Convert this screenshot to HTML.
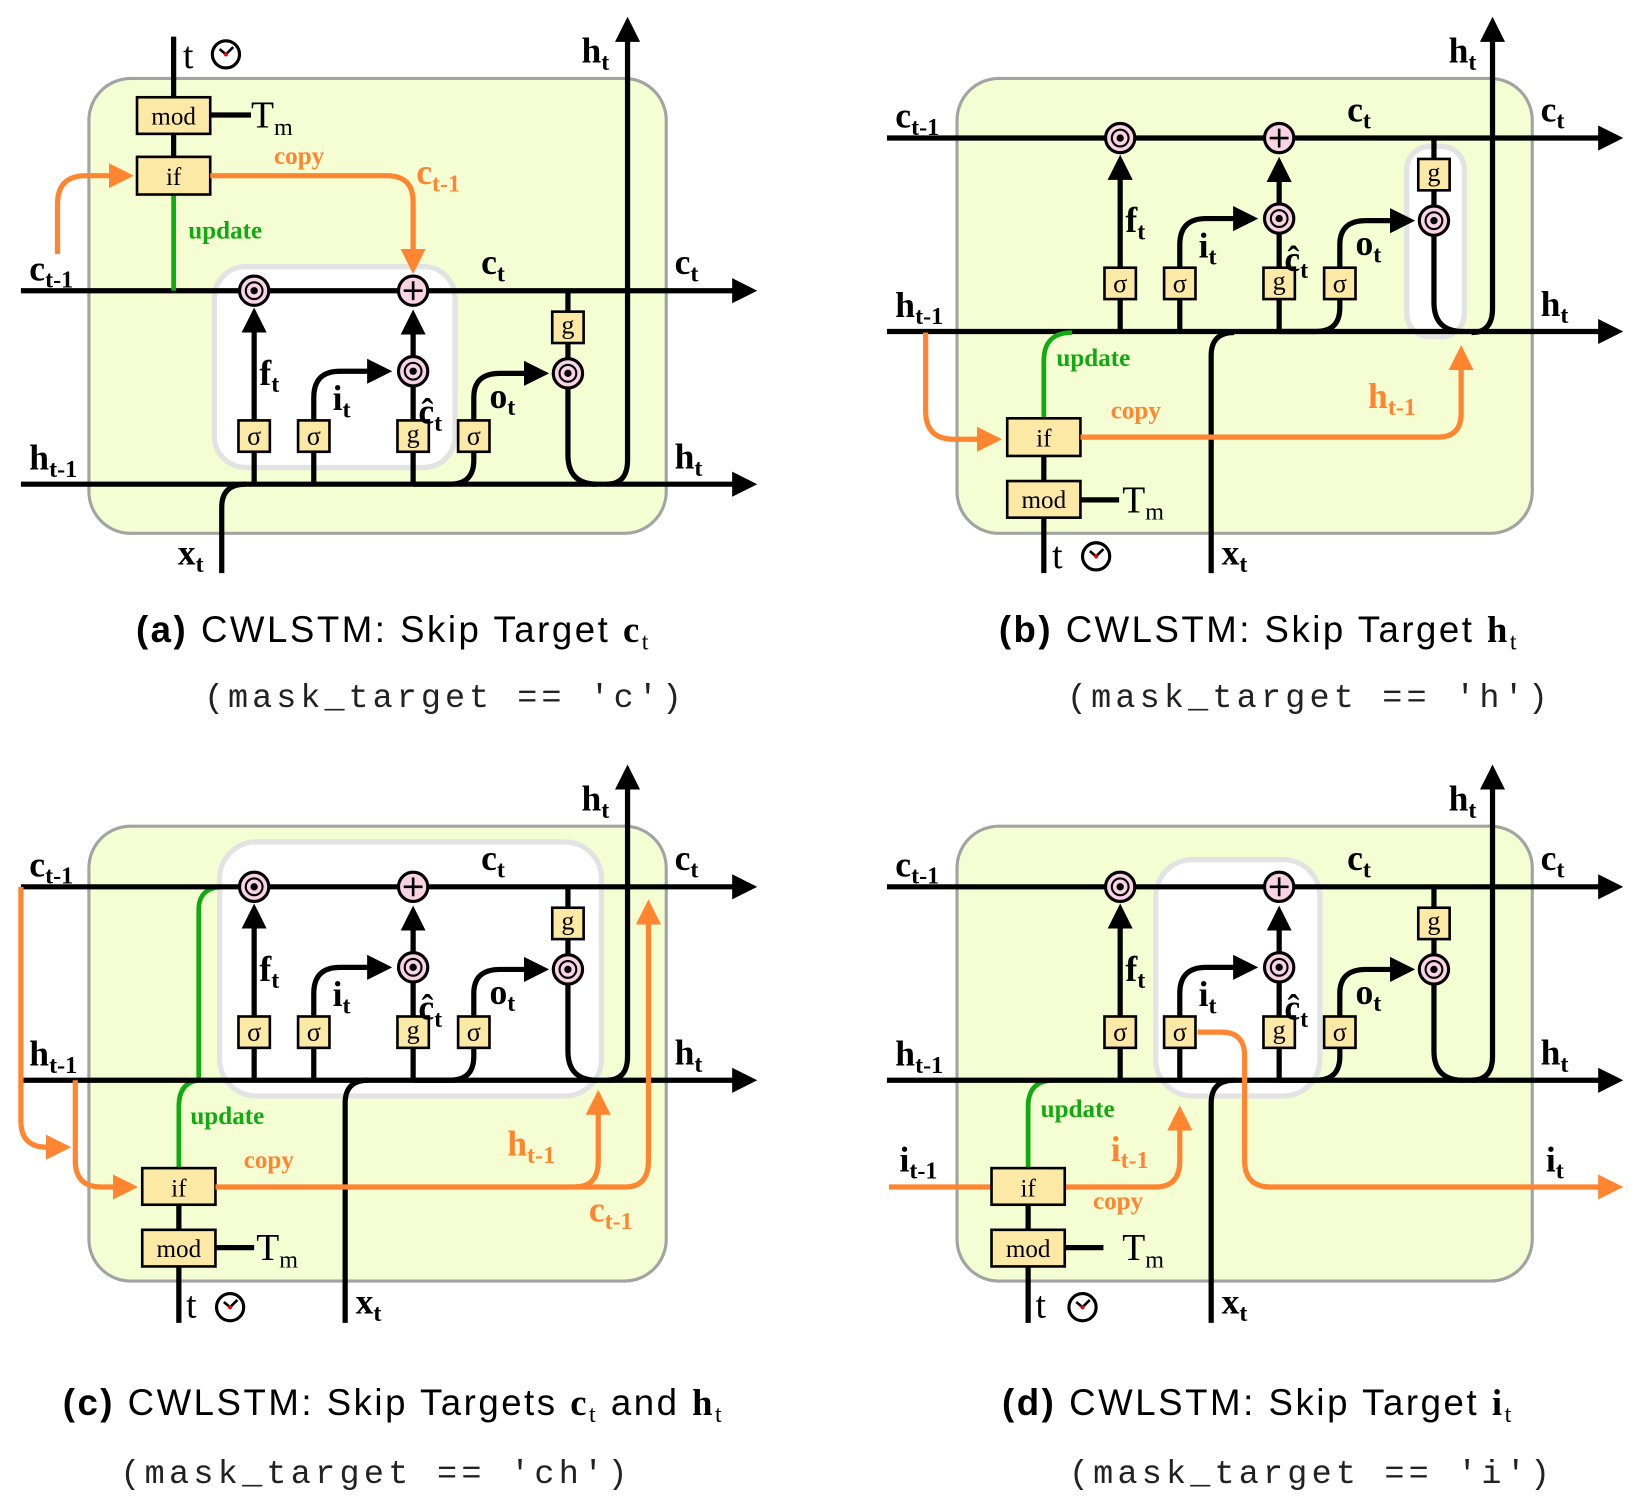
<!DOCTYPE html>
<html><head><meta charset="utf-8"><style>
html,body{margin:0;padding:0;background:#fff;}
svg{display:block;}
.ln{fill:none;stroke:#000;stroke-width:5;}
.or{fill:none;stroke:#ff8530;stroke-width:5;}
.gr{fill:none;stroke:#11aa11;stroke-width:4.5;}
.ob{fill:#f5fdd3;stroke:#a3a3a3;stroke-width:3;}
.ib{fill:#fff;stroke:#e3e3e3;stroke-width:5;}
.cir{fill:#f8d3e2;stroke:#000;stroke-width:3;}
.gate{fill:#fde9a6;stroke:#000;stroke-width:2.5;}
.gt{font-family:"Liberation Serif",serif;font-size:25px;text-anchor:middle;}
.gm{font-family:"Liberation Serif",serif;font-size:24px;text-anchor:middle;}
.lb{font-family:"Liberation Serif",serif;font-weight:bold;font-size:34px;}
.s{font-size:23px;}
.olb{fill:#ff8530;}
.sm{font-family:"Liberation Serif",serif;font-weight:bold;font-size:24px;}
.rs{font-family:"Liberation Serif",serif;font-size:36px;}
.cap{font-family:"Liberation Sans","DejaVu Sans",sans-serif;font-size:35px;}
.mono{font-family:"Liberation Mono",monospace;font-size:32px;fill:#222;}
</style></head><body>
<svg width="1640" height="1508" viewBox="0 0 1568 1442" preserveAspectRatio="none" xmlns="http://www.w3.org/2000/svg">
<defs>
<marker id="ab" markerUnits="userSpaceOnUse" markerWidth="26" markerHeight="26" refX="4" refY="12" orient="auto"><path d="M0,0 L24,12 L0,24 z" fill="#000"/></marker>
<marker id="ao" markerUnits="userSpaceOnUse" markerWidth="26" markerHeight="26" refX="4" refY="12" orient="auto"><path d="M0,0 L24,12 L0,24 z" fill="#ff8530"/></marker>
</defs>

<!-- ===== Panel A ===== -->
<rect class="ob" x="85" y="75" width="552" height="435" rx="40"/>
<rect class="ib" x="205" y="255" width="230" height="192" rx="30"/>
<g>
<path class="ln" d="M20 278 H704" marker-end="url(#ab)"/>
<path class="ln" d="M20 463 H704" marker-end="url(#ab)"/>
<path class="ln" d="M243 463 V314" marker-end="url(#ab)"/>
<path class="ln" d="M300 463 V380 Q300 355 325 355 H355" marker-end="url(#ab)"/>
<path class="ln" d="M395 463 V370 M395 341 V316"/>
<path class="ln" d="M395 320 V316" marker-end="url(#ab)"/>
<path class="ln" d="M395 463 H430 Q453 463 453 440 V380 Q453 357 478 357 H505" marker-end="url(#ab)"/>
<path class="ln" d="M543 278 V343 M543 371 V435 Q543 463 571 463"/>
<circle class="cir" cx="243" cy="278" r="14"/><circle cx="243" cy="278" r="3.5"/><circle cx="243" cy="278" r="8" fill="none" stroke="#000" stroke-width="2"/>
<circle class="cir" cx="395" cy="278" r="14"/><path d="M386 278 H404 M395 269 V287" stroke="#000" stroke-width="2.5"/>
<circle class="cir" cx="395" cy="355" r="14"/><circle cx="395" cy="355" r="3.5"/><circle cx="395" cy="355" r="8" fill="none" stroke="#000" stroke-width="2"/>
<circle class="cir" cx="543" cy="357" r="14"/><circle cx="543" cy="357" r="3.5"/><circle cx="543" cy="357" r="8" fill="none" stroke="#000" stroke-width="2"/>
<rect class="gate" x="228" y="402" width="30" height="30"/><text class="gt" x="243" y="425">σ</text>
<rect class="gate" x="285" y="402" width="30" height="30"/><text class="gt" x="300" y="425">σ</text>
<rect class="gate" x="380" y="402" width="30" height="30"/><text class="gt" x="395" y="423">g</text>
<rect class="gate" x="438" y="402" width="30" height="30"/><text class="gt" x="453" y="425">σ</text>
<rect class="gate" x="528" y="298" width="30" height="30"/><text class="gt" x="543" y="319">g</text>
<text class="lb" x="28" y="268">c<tspan class="s" dy="7">t-1</tspan></text>
<text class="lb" x="28" y="449">h<tspan class="s" dy="7">t-1</tspan></text>
<text class="lb" x="460" y="262">c<tspan class="s" dy="7">t</tspan></text>
<text class="lb" x="645" y="262">c<tspan class="s" dy="7">t</tspan></text>
<text class="lb" x="645" y="448">h<tspan class="s" dy="7">t</tspan></text>
<text class="lb" x="248" y="368">f<tspan class="s" dy="7">t</tspan></text>
<text class="lb" x="318" y="392">i<tspan class="s" dy="7">t</tspan></text>
<text class="lb" x="400" y="405">ĉ<tspan class="s" dy="7">t</tspan></text>
<text class="lb" x="468" y="390">o<tspan class="s" dy="7">t</tspan></text>
</g>
<path class="ln" d="M580 463 Q600 463 600 440 V36" marker-end="url(#ab)"/>
<text class="lb" x="556" y="60">h<tspan class="s" dy="7">t</tspan></text>
<path class="ln" d="M212 548 V485 Q212 463 235 463"/>
<text class="lb" x="170" y="540">x<tspan class="s" dy="7">t</tspan></text>
<path class="ln" d="M166 35 V150"/>
<path class="gr" d="M166 186 V278"/>
<path class="ln" d="M201 110 H240"/>
<rect class="gate" x="131" y="93" width="70" height="35"/><text class="gm" x="166" y="119">mod</text>
<rect class="gate" x="131" y="150" width="70" height="36"/><text class="gm" x="166" y="177">if</text>
<text class="rs" x="240" y="122">T<tspan class="s" dy="7">m</tspan></text>
<text class="rs" x="175" y="65">t</text>
<g transform="translate(216,52)"><circle r="13" fill="#fff" stroke="#000" stroke-width="3"/><path d="M0 0 L-6 -5 M0 0 L7 -7" stroke="#000" stroke-width="2.5"/><circle r="2" fill="#e00"/></g>
<path class="or" d="M55 243 V195 Q55 168 82 168 H108" marker-end="url(#ao)"/>
<path class="or" d="M201 168 H370 Q395 168 395 193 V242" marker-end="url(#ao)"/>
<text class="sm olb" x="262" y="157">copy</text>
<text class="lb olb" x="398" y="176">c<tspan class="s" dy="7">t-1</tspan></text>
<text class="sm" x="180" y="228" fill="#11aa11">update</text>
<text class="cap" x="130" y="614" textLength="490" lengthAdjust="spacing"><tspan font-weight="bold">(a)</tspan> CWLSTM: Skip Target <tspan font-family="Liberation Serif" font-weight="bold">c</tspan><tspan font-family="Liberation Serif" class="s" dy="7">t</tspan></text>
<text class="mono" x="195" y="676" textLength="457" lengthAdjust="spacing">(mask_target == 'c')</text>

<!-- ===== Panel B ===== -->
<rect class="ob" x="915" y="75" width="550" height="435" rx="40"/>
<rect class="ib" x="1345" y="140" width="55" height="182" rx="22"/>
<g transform="translate(828,-146)">
<path class="ln" d="M20 278 H704" marker-end="url(#ab)"/>
<path class="ln" d="M20 463 H704" marker-end="url(#ab)"/>
<path class="ln" d="M243 463 V314" marker-end="url(#ab)"/>
<path class="ln" d="M300 463 V380 Q300 355 325 355 H355" marker-end="url(#ab)"/>
<path class="ln" d="M395 463 V370 M395 341 V316"/>
<path class="ln" d="M395 320 V316" marker-end="url(#ab)"/>
<path class="ln" d="M395 463 H430 Q453 463 453 440 V380 Q453 357 478 357 H505" marker-end="url(#ab)"/>
<path class="ln" d="M543 278 V343 M543 371 V435 Q543 463 571 463"/>
<circle class="cir" cx="243" cy="278" r="14"/><circle cx="243" cy="278" r="3.5"/><circle cx="243" cy="278" r="8" fill="none" stroke="#000" stroke-width="2"/>
<circle class="cir" cx="395" cy="278" r="14"/><path d="M386 278 H404 M395 269 V287" stroke="#000" stroke-width="2.5"/>
<circle class="cir" cx="395" cy="355" r="14"/><circle cx="395" cy="355" r="3.5"/><circle cx="395" cy="355" r="8" fill="none" stroke="#000" stroke-width="2"/>
<circle class="cir" cx="543" cy="357" r="14"/><circle cx="543" cy="357" r="3.5"/><circle cx="543" cy="357" r="8" fill="none" stroke="#000" stroke-width="2"/>
<rect class="gate" x="228" y="402" width="30" height="30"/><text class="gt" x="243" y="425">σ</text>
<rect class="gate" x="285" y="402" width="30" height="30"/><text class="gt" x="300" y="425">σ</text>
<rect class="gate" x="380" y="402" width="30" height="30"/><text class="gt" x="395" y="423">g</text>
<rect class="gate" x="438" y="402" width="30" height="30"/><text class="gt" x="453" y="425">σ</text>
<rect class="gate" x="528" y="298" width="30" height="30"/><text class="gt" x="543" y="319">g</text>
<text class="lb" x="28" y="268">c<tspan class="s" dy="7">t-1</tspan></text>
<text class="lb" x="28" y="449">h<tspan class="s" dy="7">t-1</tspan></text>
<text class="lb" x="460" y="262">c<tspan class="s" dy="7">t</tspan></text>
<text class="lb" x="645" y="262">c<tspan class="s" dy="7">t</tspan></text>
<text class="lb" x="645" y="448">h<tspan class="s" dy="7">t</tspan></text>
<text class="lb" x="248" y="368">f<tspan class="s" dy="7">t</tspan></text>
<text class="lb" x="318" y="392">i<tspan class="s" dy="7">t</tspan></text>
<text class="lb" x="400" y="405">ĉ<tspan class="s" dy="7">t</tspan></text>
<text class="lb" x="468" y="390">o<tspan class="s" dy="7">t</tspan></text>
</g>
<path class="ln" d="M1407 318 Q1427 318 1427 295 V36" marker-end="url(#ab)"/>
<text class="lb" x="1385" y="60">h<tspan class="s" dy="7">t</tspan></text>
<path class="ln" d="M1158 548 V340 Q1158 318 1180 318"/>
<text class="lb" x="1168" y="540">x<tspan class="s" dy="7">t</tspan></text>
<path class="gr" d="M998 400 V345 Q998 318 1025 318"/>
<path class="ln" d="M998 436 V460 M998 495 V548 M1033 478 H1070"/>
<rect class="gate" x="963" y="400" width="70" height="36"/><text class="gm" x="998" y="427">if</text>
<rect class="gate" x="963" y="460" width="70" height="35"/><text class="gm" x="998" y="486">mod</text>
<text class="rs" x="1073" y="490">T<tspan class="s" dy="7">m</tspan></text>
<text class="rs" x="1006" y="543">t</text>
<g transform="translate(1048,532)"><circle r="13" fill="#fff" stroke="#000" stroke-width="3"/><path d="M0 0 L-6 -5 M0 0 L7 -7" stroke="#000" stroke-width="2.5"/><circle r="2" fill="#e00"/></g>
<path class="or" d="M885 318 V393 Q885 420 912 420 H938" marker-end="url(#ao)"/>
<path class="or" d="M1033 418 H1375 Q1397 418 1397 395 V350" marker-end="url(#ao)"/>
<text class="sm" x="1010" y="350" fill="#11aa11">update</text>
<text class="sm olb" x="1062" y="400">copy</text>
<text class="lb olb" x="1308" y="390">h<tspan class="s" dy="7">t-1</tspan></text>
<text class="cap" x="955" y="614" textLength="495" lengthAdjust="spacing"><tspan font-weight="bold">(b)</tspan> CWLSTM: Skip Target <tspan font-family="Liberation Serif" font-weight="bold">h</tspan><tspan font-family="Liberation Serif" class="s" dy="7">t</tspan></text>
<text class="mono" x="1020" y="676" textLength="460" lengthAdjust="spacing">(mask_target == 'h')</text>

<!-- ===== Panel C ===== -->
<rect class="ob" x="85" y="790" width="552" height="435" rx="40"/>
<rect class="ib" x="210" y="805" width="365" height="243" rx="35"/>
<path class="gr" d="M171 1117 V1058 Q171 1035 190 1033 V870 Q190 848 214 848"/>
<g transform="translate(0,570)">
<path class="ln" d="M20 278 H704" marker-end="url(#ab)"/>
<path class="ln" d="M20 463 H704" marker-end="url(#ab)"/>
<path class="ln" d="M243 463 V314" marker-end="url(#ab)"/>
<path class="ln" d="M300 463 V380 Q300 355 325 355 H355" marker-end="url(#ab)"/>
<path class="ln" d="M395 463 V370 M395 341 V316"/>
<path class="ln" d="M395 320 V316" marker-end="url(#ab)"/>
<path class="ln" d="M395 463 H430 Q453 463 453 440 V380 Q453 357 478 357 H505" marker-end="url(#ab)"/>
<path class="ln" d="M543 278 V343 M543 371 V435 Q543 463 571 463"/>
<circle class="cir" cx="243" cy="278" r="14"/><circle cx="243" cy="278" r="3.5"/><circle cx="243" cy="278" r="8" fill="none" stroke="#000" stroke-width="2"/>
<circle class="cir" cx="395" cy="278" r="14"/><path d="M386 278 H404 M395 269 V287" stroke="#000" stroke-width="2.5"/>
<circle class="cir" cx="395" cy="355" r="14"/><circle cx="395" cy="355" r="3.5"/><circle cx="395" cy="355" r="8" fill="none" stroke="#000" stroke-width="2"/>
<circle class="cir" cx="543" cy="357" r="14"/><circle cx="543" cy="357" r="3.5"/><circle cx="543" cy="357" r="8" fill="none" stroke="#000" stroke-width="2"/>
<rect class="gate" x="228" y="402" width="30" height="30"/><text class="gt" x="243" y="425">σ</text>
<rect class="gate" x="285" y="402" width="30" height="30"/><text class="gt" x="300" y="425">σ</text>
<rect class="gate" x="380" y="402" width="30" height="30"/><text class="gt" x="395" y="423">g</text>
<rect class="gate" x="438" y="402" width="30" height="30"/><text class="gt" x="453" y="425">σ</text>
<rect class="gate" x="528" y="298" width="30" height="30"/><text class="gt" x="543" y="319">g</text>
<text class="lb" x="28" y="268">c<tspan class="s" dy="7">t-1</tspan></text>
<text class="lb" x="28" y="449">h<tspan class="s" dy="7">t-1</tspan></text>
<text class="lb" x="460" y="262">c<tspan class="s" dy="7">t</tspan></text>
<text class="lb" x="645" y="262">c<tspan class="s" dy="7">t</tspan></text>
<text class="lb" x="645" y="448">h<tspan class="s" dy="7">t</tspan></text>
<text class="lb" x="248" y="368">f<tspan class="s" dy="7">t</tspan></text>
<text class="lb" x="318" y="392">i<tspan class="s" dy="7">t</tspan></text>
<text class="lb" x="400" y="405">ĉ<tspan class="s" dy="7">t</tspan></text>
<text class="lb" x="468" y="390">o<tspan class="s" dy="7">t</tspan></text>
</g>
<path class="ln" d="M580 1033 Q600 1033 600 1010 V751" marker-end="url(#ab)"/>
<text class="lb" x="556" y="775">h<tspan class="s" dy="7">t</tspan></text>
<path class="ln" d="M330 1265 V1055 Q330 1033 352 1033"/>
<text class="lb" x="340" y="1256">x<tspan class="s" dy="7">t</tspan></text>
<path class="ln" d="M171 1152 V1176 M171 1211 V1265 M206 1193 H243"/>
<rect class="gate" x="136" y="1117" width="70" height="35"/><text class="gm" x="171" y="1144">if</text>
<rect class="gate" x="136" y="1176" width="70" height="35"/><text class="gm" x="171" y="1202">mod</text>
<text class="rs" x="245" y="1205">T<tspan class="s" dy="7">m</tspan></text>
<text class="rs" x="178" y="1260">t</text>
<g transform="translate(220,1250)"><circle r="13" fill="#fff" stroke="#000" stroke-width="3"/><path d="M0 0 L-6 -5 M0 0 L7 -7" stroke="#000" stroke-width="2.5"/><circle r="2" fill="#e00"/></g>
<path class="or" d="M20 848 V1072 Q20 1097 45 1097 H48" marker-end="url(#ao)"/>
<path class="or" d="M72 1033 V1110 Q72 1135 97 1135 H112" marker-end="url(#ao)"/>
<path class="or" d="M206 1135 H550 Q572 1135 572 1110 V1062" marker-end="url(#ao)"/>
<path class="or" d="M550 1135 H598 Q620 1135 620 1110 V880" marker-end="url(#ao)"/>
<text class="sm" x="182" y="1075" fill="#11aa11">update</text>
<text class="sm olb" x="233" y="1117">copy</text>
<text class="lb olb" x="485" y="1105">h<tspan class="s" dy="7">t-1</tspan></text>
<text class="lb olb" x="563" y="1168">c<tspan class="s" dy="7">t-1</tspan></text>
<text class="cap" x="60" y="1353" textLength="630" lengthAdjust="spacing"><tspan font-weight="bold">(c)</tspan> CWLSTM: Skip Targets <tspan font-family="Liberation Serif" font-weight="bold">c</tspan><tspan font-family="Liberation Serif" class="s" dy="7">t</tspan><tspan dy="-7"> and </tspan><tspan font-family="Liberation Serif" font-weight="bold">h</tspan><tspan font-family="Liberation Serif" class="s" dy="7">t</tspan></text>
<text class="mono" x="115" y="1418" textLength="485" lengthAdjust="spacing">(mask_target == 'ch')</text>

<!-- ===== Panel D ===== -->
<rect class="ob" x="915" y="790" width="550" height="435" rx="40"/>
<rect class="ib" x="1105" y="822" width="157" height="226" rx="35"/>
<path class="gr" d="M983 1117 V1058 Q983 1033 1008 1033"/>
<g transform="translate(828,570)">
<path class="ln" d="M20 278 H704" marker-end="url(#ab)"/>
<path class="ln" d="M20 463 H704" marker-end="url(#ab)"/>
<path class="ln" d="M243 463 V314" marker-end="url(#ab)"/>
<path class="ln" d="M300 463 V380 Q300 355 325 355 H355" marker-end="url(#ab)"/>
<path class="ln" d="M395 463 V370 M395 341 V316"/>
<path class="ln" d="M395 320 V316" marker-end="url(#ab)"/>
<path class="ln" d="M395 463 H430 Q453 463 453 440 V380 Q453 357 478 357 H505" marker-end="url(#ab)"/>
<path class="ln" d="M543 278 V343 M543 371 V435 Q543 463 571 463"/>
<circle class="cir" cx="243" cy="278" r="14"/><circle cx="243" cy="278" r="3.5"/><circle cx="243" cy="278" r="8" fill="none" stroke="#000" stroke-width="2"/>
<circle class="cir" cx="395" cy="278" r="14"/><path d="M386 278 H404 M395 269 V287" stroke="#000" stroke-width="2.5"/>
<circle class="cir" cx="395" cy="355" r="14"/><circle cx="395" cy="355" r="3.5"/><circle cx="395" cy="355" r="8" fill="none" stroke="#000" stroke-width="2"/>
<circle class="cir" cx="543" cy="357" r="14"/><circle cx="543" cy="357" r="3.5"/><circle cx="543" cy="357" r="8" fill="none" stroke="#000" stroke-width="2"/>
<rect class="gate" x="228" y="402" width="30" height="30"/><text class="gt" x="243" y="425">σ</text>
<rect class="gate" x="285" y="402" width="30" height="30"/><text class="gt" x="300" y="425">σ</text>
<rect class="gate" x="380" y="402" width="30" height="30"/><text class="gt" x="395" y="423">g</text>
<rect class="gate" x="438" y="402" width="30" height="30"/><text class="gt" x="453" y="425">σ</text>
<rect class="gate" x="528" y="298" width="30" height="30"/><text class="gt" x="543" y="319">g</text>
<text class="lb" x="28" y="268">c<tspan class="s" dy="7">t-1</tspan></text>
<text class="lb" x="28" y="449">h<tspan class="s" dy="7">t-1</tspan></text>
<text class="lb" x="460" y="262">c<tspan class="s" dy="7">t</tspan></text>
<text class="lb" x="645" y="262">c<tspan class="s" dy="7">t</tspan></text>
<text class="lb" x="645" y="448">h<tspan class="s" dy="7">t</tspan></text>
<text class="lb" x="248" y="368">f<tspan class="s" dy="7">t</tspan></text>
<text class="lb" x="318" y="392">i<tspan class="s" dy="7">t</tspan></text>
<text class="lb" x="400" y="405">ĉ<tspan class="s" dy="7">t</tspan></text>
<text class="lb" x="468" y="390">o<tspan class="s" dy="7">t</tspan></text>
</g>
<path class="ln" d="M1407 1033 Q1427 1033 1427 1010 V751" marker-end="url(#ab)"/>
<text class="lb" x="1385" y="775">h<tspan class="s" dy="7">t</tspan></text>
<path class="or" d="M1145 987 H1168 Q1190 987 1190 1010 V1110 Q1190 1135 1215 1135 H1532" marker-end="url(#ao)"/>
<path class="ln" d="M1158 1265 V1055 Q1158 1033 1180 1033"/>
<text class="lb" x="1168" y="1256">x<tspan class="s" dy="7">t</tspan></text>
<path class="or" d="M850 1135 H948"/>
<path class="or" d="M1018 1135 H1105 Q1128 1135 1128 1110 V1077" marker-end="url(#ao)"/>
<path class="ln" d="M983 1152 V1176 M983 1211 V1265 M1018 1193 H1055"/>
<rect class="gate" x="948" y="1117" width="70" height="35"/><text class="gm" x="983" y="1144">if</text>
<rect class="gate" x="948" y="1176" width="70" height="35"/><text class="gm" x="983" y="1202">mod</text>
<text class="rs" x="1073" y="1205">T<tspan class="s" dy="7">m</tspan></text>
<text class="rs" x="990" y="1260">t</text>
<g transform="translate(1035,1250)"><circle r="13" fill="#fff" stroke="#000" stroke-width="3"/><path d="M0 0 L-6 -5 M0 0 L7 -7" stroke="#000" stroke-width="2.5"/><circle r="2" fill="#e00"/></g>
<text class="lb" x="860" y="1120">i<tspan class="s" dy="7">t-1</tspan></text>
<text class="lb" x="1478" y="1120">i<tspan class="s" dy="7">t</tspan></text>
<text class="sm" x="995" y="1068" fill="#11aa11">update</text>
<text class="lb olb" x="1062" y="1110">i<tspan class="s" dy="7">t-1</tspan></text>
<text class="sm olb" x="1045" y="1156">copy</text>
<text class="cap" x="958" y="1353" textLength="487" lengthAdjust="spacing"><tspan font-weight="bold">(d)</tspan> CWLSTM: Skip Target <tspan font-family="Liberation Serif" font-weight="bold">i</tspan><tspan font-family="Liberation Serif" class="s" dy="7">t</tspan></text>
<text class="mono" x="1022" y="1418" textLength="460" lengthAdjust="spacing">(mask_target == 'i')</text>
</svg>
</body></html>
